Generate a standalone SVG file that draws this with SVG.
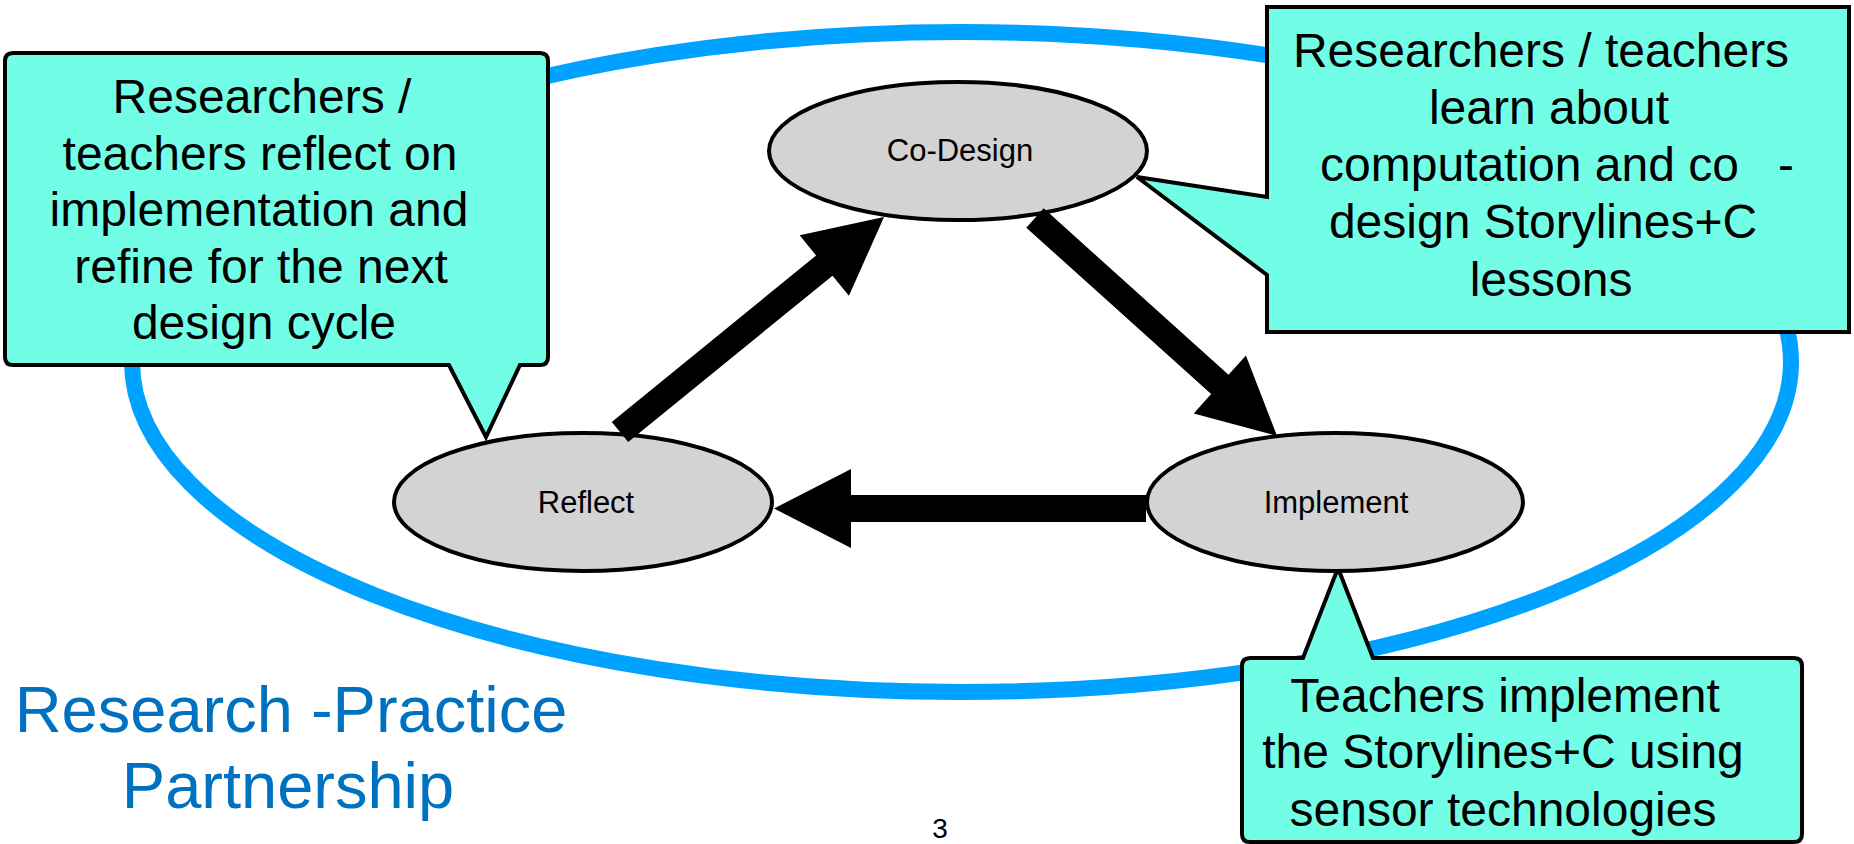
<svg xmlns="http://www.w3.org/2000/svg" width="1854" height="844" viewBox="0 0 1854 844">
<style>
.callout{fill:#72fee6;stroke:#000;stroke-width:4;stroke-linejoin:miter}
.ctext{font-family:"Liberation Sans",Arial,sans-serif;font-size:48px;fill:#000;text-anchor:middle}
.node{fill:#d3d3d3;stroke:#000;stroke-width:4}
.ntext{font-family:"Liberation Sans",Arial,sans-serif;font-size:31px;fill:#000;text-anchor:middle}
.arrow{fill:#000;stroke:none}
.title{font-family:"Liberation Sans",Arial,sans-serif;font-size:65px;fill:#0070c0;text-anchor:middle}
</style>
<rect width="1854" height="844" fill="#fff"/>
<g id="ring">
<ellipse cx="961.5" cy="362" rx="829.5" ry="330" fill="none" stroke="#00a2ff" stroke-width="16"/>
</g>
<g id="callout-reflect">
<path class="callout" d="M13,53 H540 Q548,53 548,61 V357 Q548,365 540,365 H520 L486,437 L449,365 H13 Q5,365 5,357 V61 Q5,53 13,53 Z"/>
<text class="ctext" x="262" y="113">Researchers /</text>
<text class="ctext" x="260" y="170">teachers reflect on</text>
<text class="ctext" x="259" y="226">implementation and</text>
<text class="ctext" x="261" y="283">refine for the next</text>
<text class="ctext" x="264" y="339">design cycle</text>
</g>
<g id="callout-codesign">
<path class="callout" d="M1267,7 H1849 V332 H1267 V275 L1137,177 L1267,197 Z"/>
<text class="ctext" x="1541" y="67">Researchers / teachers</text>
<text class="ctext" x="1549" y="124">learn about</text>
<text class="ctext" x="1320" y="181" style="text-anchor:start">computation and co<tspan x="1778">-</tspan></text>
<text class="ctext" x="1543" y="238">design Storylines+C</text>
<text class="ctext" x="1551" y="296">lessons</text>
</g>
<g id="callout-implement">
<path class="callout" d="M1250,658 H1303 L1338,568 L1373,658 H1794 Q1802,658 1802,666 V834 Q1802,842 1794,842 H1250 Q1242,842 1242,834 V666 Q1242,658 1250,658 Z"/>
<text class="ctext" x="1505" y="712">Teachers implement</text>
<text class="ctext" x="1503" y="768">the Storylines+C using</text>
<text class="ctext" x="1503" y="826">sensor technologies</text>
</g>
<g id="node-codesign">
<ellipse class="node" cx="958" cy="151" rx="189" ry="69"/>
<text class="ntext" x="960" y="161">Co-Design</text>
</g>
<g id="node-reflect">
<ellipse class="node" cx="583" cy="502" rx="189" ry="69"/>
<text class="ntext" x="586" y="513">Reflect</text>
</g>
<g id="node-implement">
<ellipse class="node" cx="1335" cy="502" rx="188" ry="69"/>
<text class="ntext" x="1336" y="513">Implement</text>
</g>
<g id="connectors">
<polygon class="arrow" transform="translate(620 432) rotate(-39.16)" points="0,-13 263.5,-13 263.5,-39 340.5,0 263.5,39 263.5,13 0,13"/>
<polygon class="arrow" transform="translate(1035 218) rotate(42)" points="0,-13 248.7,-13 248.7,-39 325.7,0 248.7,39 248.7,13 0,13"/>
<polygon class="arrow" points="1146,495 851,495 851,469 774,508.5 851,548 851,522 1146,522"/>
</g>
<g id="title">
<text class="title" x="291" y="732">Research -Practice</text>
<text class="title" x="288" y="808">Partnership</text>
</g>
<text x="940" y="838" font-family="Liberation Sans, Arial, sans-serif" font-size="28" text-anchor="middle" fill="#000">3</text>
</svg>
